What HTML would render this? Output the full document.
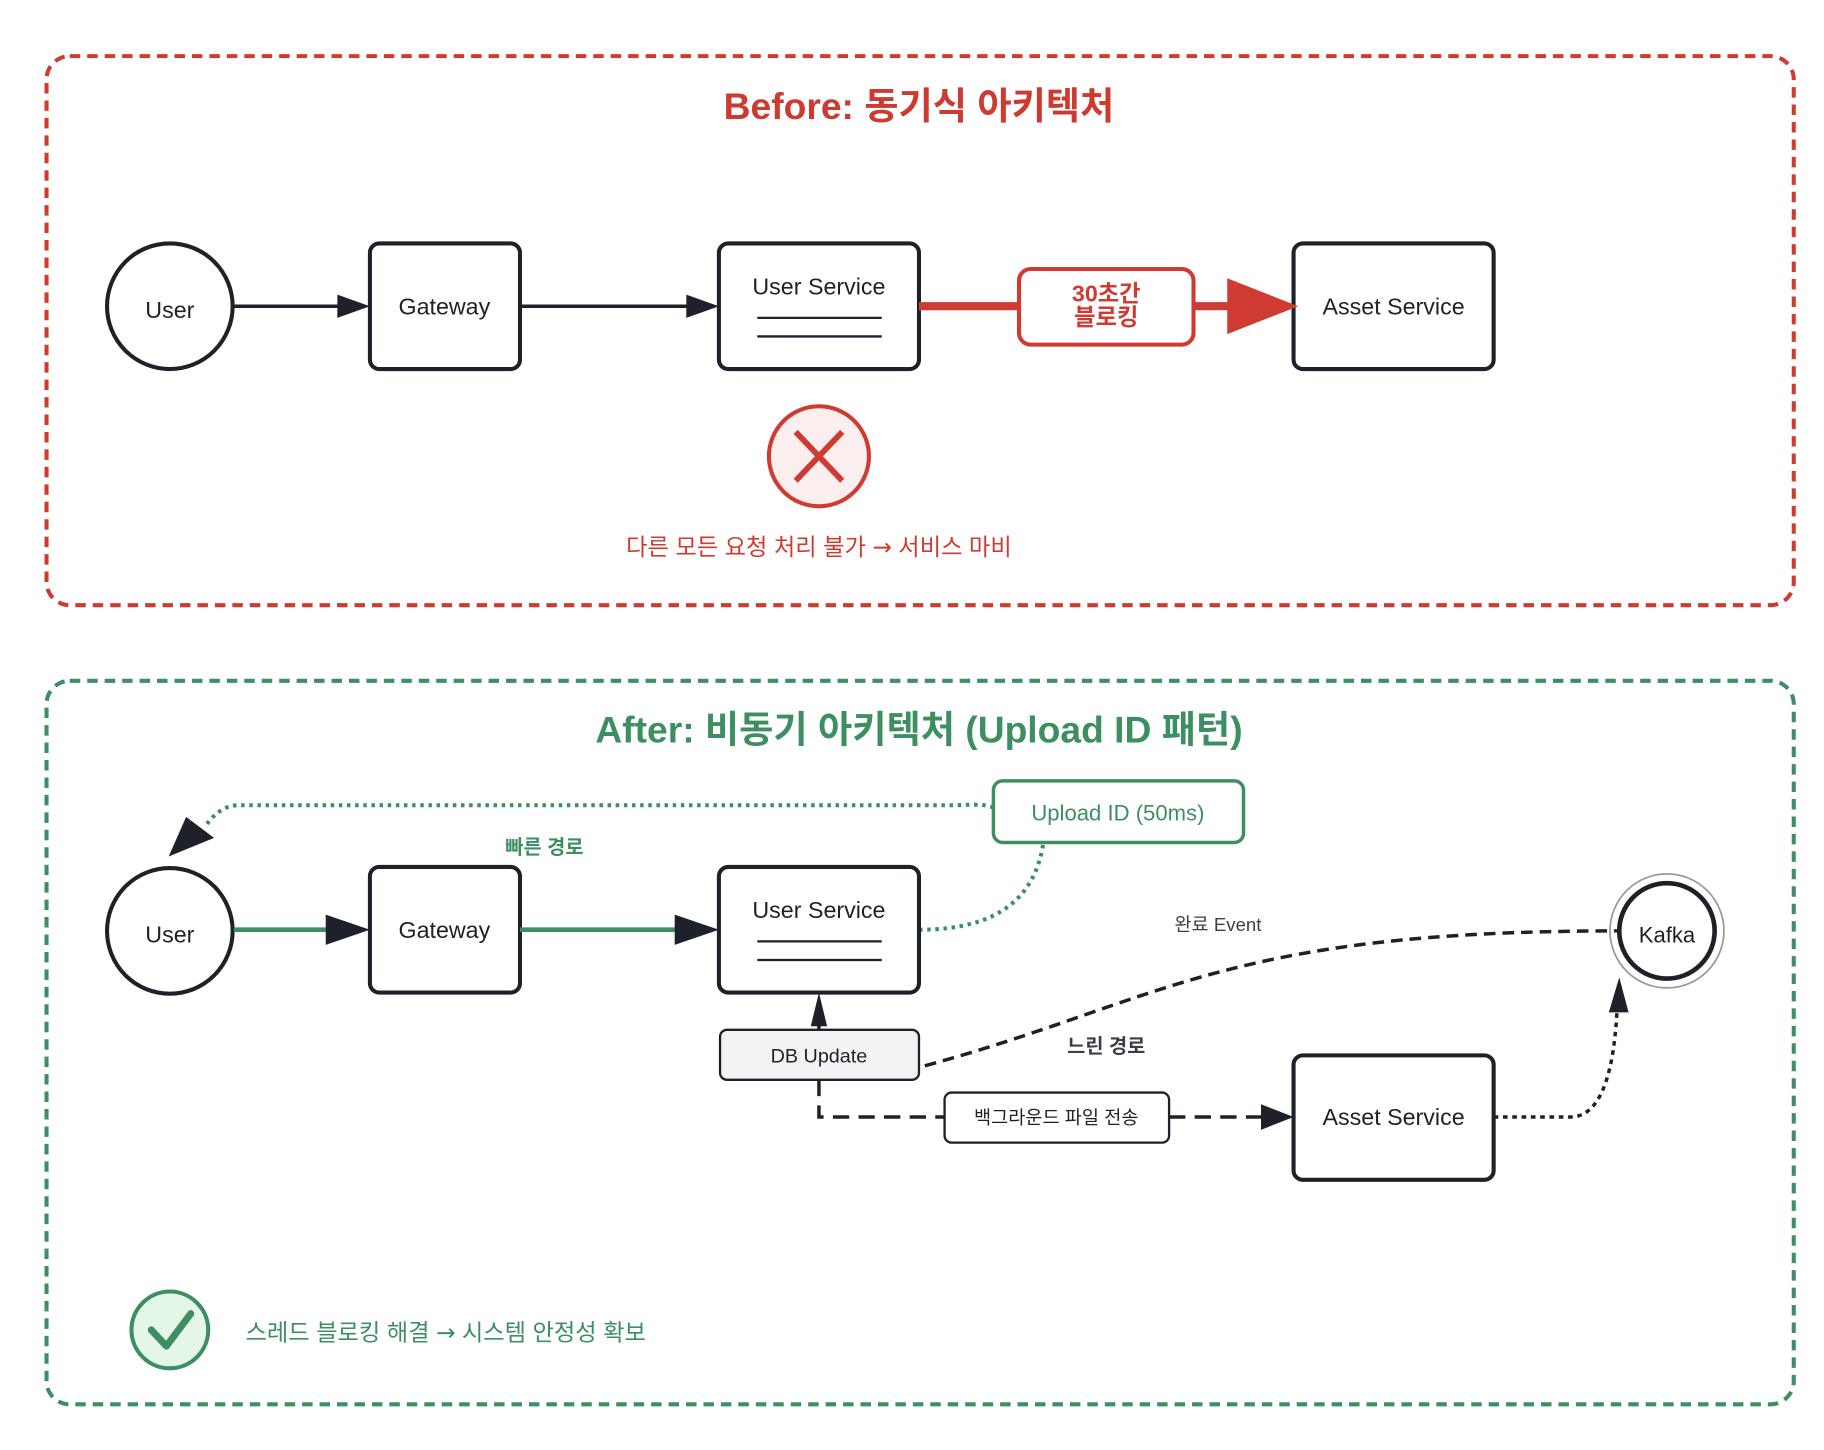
<!DOCTYPE html>
<html><head><meta charset="utf-8"><style>
html,body{margin:0;padding:0;background:#fff;}
svg{display:block;}
text{font-family:"Liberation Sans","Noto Sans CJK KR",sans-serif;}
.ar{font-family:"DejaVu Sans",sans-serif;}
</style></head><body>
<svg width="1824" height="1450" viewBox="0 0 1568 1246" xmlns="http://www.w3.org/2000/svg">
<rect width="1568" height="1246" fill="#fff"/>
<!-- BEFORE -->
<rect x="40" y="48" width="1502" height="472" rx="20" fill="none" stroke="#cf3b31" stroke-width="3.5" stroke-dasharray="9 6"/>
<text x="790" y="102" text-anchor="middle" font-size="32" font-weight="bold" fill="#cc3a30">Before: 동기식 아키텍처</text>
<g stroke="#1e2129" stroke-width="3.5" fill="#fff">
<circle cx="146" cy="263" r="54"/>
<rect x="318" y="209" width="129" height="108" rx="8"/>
<rect x="618" y="209" width="172" height="108" rx="8"/>
<rect x="1112" y="209" width="172" height="108" rx="8"/>
</g>
<g stroke="#1e2129" stroke-width="2"><line x1="651" y1="273" x2="758" y2="273"/><line x1="651" y1="289" x2="758" y2="289"/></g>
<g stroke="#1e2129" stroke-width="3"><line x1="201" y1="263" x2="292" y2="263"/><line x1="447" y1="263" x2="592" y2="263"/></g>
<polygon points="318,263 290,253 290,273" fill="#1e2129"/>
<polygon points="618,263 590,253 590,273" fill="#1e2129"/>
<g font-size="20" fill="#1e2129" text-anchor="middle">
<text x="146" y="273">User</text>
<text x="382" y="270">Gateway</text>
<text x="704" y="253">User Service</text>
<text x="1198" y="270">Asset Service</text>
</g>
<line x1="790" y1="263" x2="876" y2="263" stroke="#cf3b31" stroke-width="7"/>
<line x1="1026" y1="263" x2="1060" y2="263" stroke="#cf3b31" stroke-width="7"/>
<polygon points="1116,263 1055,239 1055,287" fill="#cf3b31"/>
<rect x="876" y="231" width="150" height="65" rx="10" fill="#fff" stroke="#cf3b31" stroke-width="3.5"/>
<text x="951" y="259" text-anchor="middle" font-size="20" font-weight="bold" fill="#cf3b31">30초간</text>
<text x="951" y="279" text-anchor="middle" font-size="20" font-weight="bold" fill="#cf3b31">블로킹</text>
<circle cx="704" cy="392" r="43" fill="#fbeeee" stroke="#cf3b31" stroke-width="3.5"/>
<g stroke="#cf3b31" stroke-width="5"><line x1="684" y1="371" x2="724" y2="413"/><line x1="724" y1="371" x2="684" y2="413"/></g>
<text x="704" y="477" text-anchor="middle" font-size="20" fill="#cf3b31">다른 모든 요청 처리 불가 <tspan class="ar">→</tspan> 서비스 마비</text>
<!-- AFTER -->
<rect x="40" y="585" width="1502" height="622" rx="20" fill="none" stroke="#3d8f62" stroke-width="3.5" stroke-dasharray="9 6"/>
<text x="790" y="638" text-anchor="middle" font-size="32" font-weight="bold" fill="#3d8f62">After: 비동기 아키텍처 (Upload ID 패턴)</text>
<path d="M854,694 C845,690 830,692 820,692 L205,692 Q190,692 178,708" fill="none" stroke="#3d8f62" stroke-width="3.5" stroke-dasharray="3 4"/>
<polygon points="145,736 160,702 184,720" fill="#1e2129"/>
<path d="M790,799 C860,799 890,770 897,724" fill="none" stroke="#3d8f62" stroke-width="3.5" stroke-dasharray="3 4"/>
<rect x="854" y="671" width="215" height="53" rx="8" fill="#fff" stroke="#3d8f62" stroke-width="3"/>
<text x="961" y="705" text-anchor="middle" font-size="19" fill="#3d8f62">Upload ID (50ms)</text>
<text x="468" y="734" text-anchor="middle" font-size="17" font-weight="bold" fill="#3d8f62">빠른 경로</text>
<g stroke="#1e2129" stroke-width="3.5" fill="#fff">
<circle cx="146" cy="800" r="54"/>
<rect x="318" y="745" width="129" height="108" rx="8"/>
<rect x="618" y="745" width="172" height="108" rx="8"/>
<rect x="1112" y="907" width="172" height="107" rx="8"/>
</g>
<g stroke="#1e2129" stroke-width="2"><line x1="651" y1="809" x2="758" y2="809"/><line x1="651" y1="825" x2="758" y2="825"/></g>
<g stroke="#3d8f62" stroke-width="4"><line x1="201" y1="799" x2="285" y2="799"/><line x1="447" y1="799" x2="585" y2="799"/></g>
<polygon points="318,799 280,786 280,812" fill="#1e2129"/>
<polygon points="618,799 580,786 580,812" fill="#1e2129"/>
<g font-size="20" fill="#1e2129" text-anchor="middle">
<text x="146" y="810">User</text>
<text x="382" y="806">Gateway</text>
<text x="704" y="789">User Service</text>
<text x="1198" y="967">Asset Service</text>
</g>
<circle cx="1433" cy="800" r="49" fill="#fff" stroke="#9a9a9a" stroke-width="1.5"/>
<circle cx="1433" cy="800" r="41" fill="#fff" stroke="#1e2129" stroke-width="4"/>
<text x="1433" y="810" text-anchor="middle" font-size="19" fill="#1e2129">Kafka</text>
<text x="1047" y="800" text-anchor="middle" font-size="16" fill="#3a3f4a">완료 Event</text>
<path d="M795,916 C1000,860 1050,800 1390,800" fill="none" stroke="#1e2129" stroke-width="3" stroke-dasharray="10 6"/>
<text x="951" y="905" text-anchor="middle" font-size="17" font-weight="bold" fill="#3a3f4a">느린 경로</text>
<line x1="704" y1="885" x2="704" y2="875" stroke="#1e2129" stroke-width="3"/>
<polygon points="704,853 697,882 711,882" fill="#1e2129"/>
<rect x="619" y="885" width="171" height="43" rx="6" fill="#f2f3f5" stroke="#1e2129" stroke-width="2"/>
<text x="704" y="913" text-anchor="middle" font-size="17" fill="#1e2129">DB Update</text>
<path d="M704,928 L704,960 L812,960" fill="none" stroke="#1e2129" stroke-width="3" stroke-dasharray="14 8"/>
<line x1="1005" y1="960" x2="1088" y2="960" stroke="#1e2129" stroke-width="3" stroke-dasharray="14 8"/>
<polygon points="1112,960 1084,949 1084,971" fill="#1e2129"/>
<rect x="812" y="939" width="193" height="43" rx="6" fill="#fff" stroke="#1e2129" stroke-width="2"/>
<text x="908" y="966" text-anchor="middle" font-size="16" fill="#1e2129">백그라운드 파일 전송</text>
<path d="M1284,960 L1350,960 Q1385,960 1390,870" fill="none" stroke="#1e2129" stroke-width="3" stroke-dasharray="4 4"/>
<polygon points="1392,840 1383,870 1400,870" fill="#1e2129"/>
<circle cx="146" cy="1143" r="33" fill="#e3f6e8" stroke="#3d8f62" stroke-width="3.5"/>
<polyline points="130,1143 143,1157 164,1129" fill="none" stroke="#3d8f62" stroke-width="6" stroke-linecap="round" stroke-linejoin="round"/>
<text x="211" y="1152" font-size="20" fill="#3d8f62">스레드 블로킹 해결 <tspan class="ar">→</tspan> 시스템 안정성 확보</text>
</svg>
</body></html>
